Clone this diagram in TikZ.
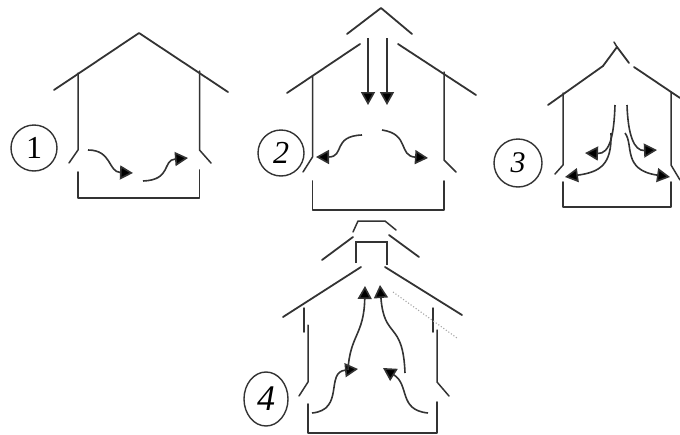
\documentclass[tikz,border=0pt]{standalone}
\usepackage{fontspec}
\setmainfont{Liberation Serif}
\usetikzlibrary{arrows.meta,shapes.geometric}
\definecolor{ink}{HTML}{333333}
\tikzset{
  wall/.style={draw=ink,line width=1.8pt,line cap=round,line join=round},
  thinwall/.style={draw=ink,line width=1.5pt,line cap=round,line join=round},
  flow/.style={draw=ink,line width=1.6pt,-{Triangle[length=13pt,width=14pt,fill=black]}},
  tag/.style={draw=ink,line width=1.4pt,circle,minimum size=46pt,inner sep=0pt,font=\fontsize{32}{32}\selectfont}
}
\begin{document}
\begin{tikzpicture}[x=1pt,y=-1pt]
\useasboundingbox (0,0) rectangle (680,434);
% --- house 1
\draw[wall] (54,90) -- (139,33) -- (228,92);
\draw[thinwall] (78,73) -- (78,150) -- (69,163);
\draw[thinwall] (199.5,71) -- (199.5,150) -- (211,163);
\draw[wall] (78,172) -- (78,198) -- (199.5,198) -- (199.5,170);
\draw[flow] (88,150) .. controls (112,150) and (108,172) .. (133,173);
\draw[flow] (143,181) .. controls (172,180) and (162,160) .. (188,158);
\node[tag] (n1) at (34,148) {1};
% --- house 2
\draw[wall] (287,93) -- (360,44);
\draw[wall] (398,44) -- (476,95);
\draw[wall] (347,34) -- (381,8) -- (412,34);
\draw[flow] (368,38) -- (368,105);
\draw[flow] (387,38) -- (387,105);
\draw[thinwall] (312.5,76) -- (312.5,157) -- (303,172);
\draw[thinwall] (444,72) -- (444,160) -- (456,172);
\draw[wall] (312.5,181) -- (312.5,210) -- (444,210) -- (444,181);
\draw[flow] (362,135) .. controls (332,136) and (345,157) .. (316,157);
\draw[flow] (382,130) .. controls (410,134) and (398,156) .. (428,158);
\node[tag,font=\fontsize{32}{32}\selectfont\itshape] (n2) at (281,153) {2};
% --- house 3
\draw[wall] (548,105) -- (603,66) -- (617,47) -- (629,63);
\draw[thinwall] (614,42) -- (617,47);
\draw[wall] (634,67) -- (680,98);
\draw[thinwall] (563,93) -- (563,165) -- (555,174);
\draw[thinwall] (671,92) -- (671,165) -- (680,180);
\draw[wall] (563,182) -- (563,207) -- (671,207) -- (671,182);
\draw[flow] (615,105) .. controls (614,135) and (610,154) .. (585,153);
\draw[flow] (627,105) .. controls (628,135) and (634,151) .. (657,150);
\draw[flow] (611,133) .. controls (612,165) and (600,172) .. (565,177);
\draw[flow] (625,133) .. controls (634,145) and (622,170) .. (670,177);
\node[tag,minimum size=48pt,font=\fontsize{30}{30}\selectfont\itshape] (n3) at (518,163) {3};
% --- house 4
\draw[thinwall] (353,232) -- (358,221) -- (385,221) -- (396,230);
\draw[wall] (322,260) -- (353,237);
\draw[wall] (389,235) -- (419,257);
\draw[line width=2.2pt,draw=ink] (356,263) -- (356,242) -- (387,242) -- (387,265);
\draw[wall] (283,317) -- (361,267);
\draw[wall] (385,267) -- (462,315);
\draw[thinwall] (304,308) -- (304,332);
\draw[thinwall] (308,325) -- (308,382) -- (299,396);
\draw[thinwall] (433,308) -- (433,332);
\draw[thinwall] (437,330) -- (437,382) -- (449,396);
\draw[wall] (308,404) -- (308,433) -- (437,433) -- (437,402);
\draw[draw=gray!70,line width=1.1pt,dotted] (393,292) -- (457,338);
\draw[flow] (312,413) .. controls (345,410) and (325,372) .. (358,369);
\draw[flow] (348,370) .. controls (350,335) and (364,335) .. (365,286);
\draw[flow] (428,413) .. controls (398,410) and (410,385) .. (383,368);
\draw[flow] (405,373) .. controls (403,320) and (384,340) .. (380,285);
\node[draw=ink,line width=1.4pt,ellipse,minimum width=44pt,minimum height=54pt,inner sep=0pt,font=\fontsize{36}{36}\selectfont\itshape] (n4) at (266,399) {4};
\end{tikzpicture}
\end{document}
